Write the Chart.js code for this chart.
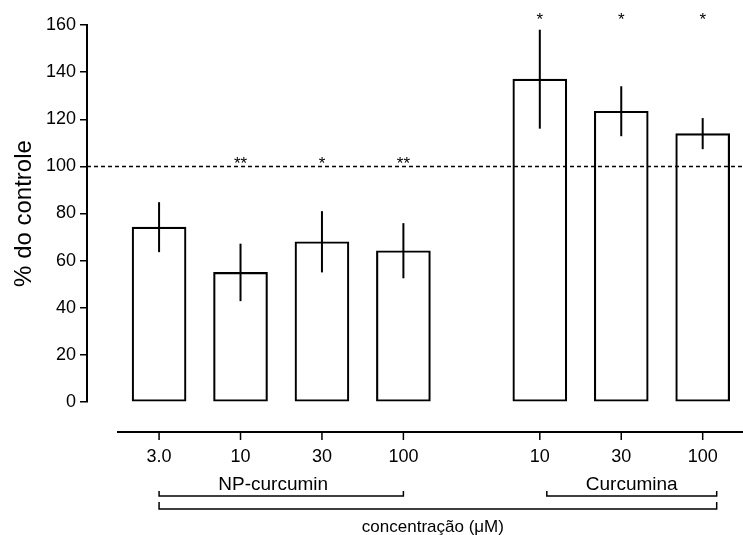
<!DOCTYPE html>
<html>
<head>
<meta charset="utf-8">
<script src="https://cdn.jsdelivr.net/npm/chart.js@4/dist/chart.umd.min.js"></script>
<style>
  body { margin: 0; background: #fff; }
</style>
</head>
<body>
<canvas id="c" width="743" height="535"></canvas>
<script>
// values
const doses = ["3.0", "10", "30", "100", "10", "30", "100"];
const groupOf = [0, 0, 0, 0, 1, 1, 1];
const groupNames = ["NP-curcumin", "Curcumina"];
const means = [74.2, 55, 68, 64.2, 137, 123.4, 113.9];
const sem = [10.6, 12.2, 13, 11.7, 21, 10.6, 6.6];
const stars = ["", "**", "*", "**", "*", "*", "*"];
const starLevel = [102.5, 163.5];
const controlLevel = 100;
const yTitle = "% do controle";
const xTitle = "concentração (μM)";

const font = "'Liberation Sans', Arial, sans-serif";
const groupGap = 0.675;
const xPos = doses.map((d, i) => i + groupOf[i] * groupGap);

const extras = {
  id: "extras",
  afterDraw(chart) {
    const { ctx, chartArea: a, scales: { x, y } } = chart;
    const cx = xPos.map(v => x.getPixelForValue(v));
    ctx.save();
    ctx.strokeStyle = "#000";
    ctx.fillStyle = "#000";

    // dashed control line
    ctx.lineWidth = 1.5;
    ctx.setLineDash([4, 3]);
    const yc = y.getPixelForValue(controlLevel);
    ctx.beginPath();
    ctx.moveTo(a.left, yc);
    ctx.lineTo(a.right, yc);
    ctx.stroke();
    ctx.setLineDash([]);

    // error bars
    ctx.lineWidth = 2;
    means.forEach((m, i) => {
      ctx.beginPath();
      ctx.moveTo(cx[i], y.getPixelForValue(m - sem[i]));
      ctx.lineTo(cx[i], y.getPixelForValue(m + sem[i]));
      ctx.stroke();
    });

    // significance marks
    ctx.font = "17px " + font;
    ctx.textAlign = "center";
    ctx.textBaseline = "middle";
    stars.forEach((s, i) => {
      if (s) ctx.fillText(s, cx[i], y.getPixelForValue(starLevel[groupOf[i]]) + 4);
    });

    // detached x axis
    const axY = a.bottom + 30;
    ctx.lineWidth = 2;
    ctx.beginPath();
    ctx.moveTo(a.left + 30, axY);
    ctx.lineTo(chart.width, axY);
    ctx.stroke();
    ctx.lineWidth = 1.5;
    cx.forEach(px => {
      ctx.beginPath();
      ctx.moveTo(px, axY);
      ctx.lineTo(px, axY + 8);
      ctx.stroke();
    });
    ctx.font = "18px " + font;
    doses.forEach((d, i) => ctx.fillText(d, cx[i], axY + 25));

    // group brackets
    const bracket = (x0, x1, yy, h) => {
      ctx.beginPath();
      ctx.moveTo(x0, yy - h);
      ctx.lineTo(x0, yy);
      ctx.lineTo(x1, yy);
      ctx.lineTo(x1, yy - h);
      ctx.stroke();
    };
    const g0 = [cx[0], cx[3]];
    const g1 = [cx[4] + 7, cx[6] + 14];
    bracket(g0[0], g0[1], axY + 64, 5);
    bracket(g1[0], g1[1], axY + 64, 5);
    bracket(g0[0], g1[1], axY + 77, 7);
    ctx.font = "19px " + font;
    ctx.fillText(groupNames[0], (g0[0] + g0[1]) / 2 - 8, axY + 53);
    ctx.fillText(groupNames[1], (g1[0] + g1[1]) / 2, axY + 53);
    ctx.font = "17px " + font;
    ctx.fillText(xTitle, (g0[0] + g1[1]) / 2 - 5, axY + 95);
    ctx.restore();
  }
};

new Chart(document.getElementById("c").getContext("2d"), {
  type: "bar",
  data: {
    datasets: [{
      data: means.map((m, i) => ({ x: xPos[i], y: m })),
      backgroundColor: "rgba(255,255,255,0)",
      borderColor: "#000",
      borderWidth: 1.5,
      borderSkipped: false,
      barThickness: 54
    }]
  },
  options: {
    responsive: false,
    animation: false,
    layout: { padding: { top: 25, bottom: 133, left: 0, right: 0 } },
    plugins: { legend: { display: false }, tooltip: { enabled: false } },
    scales: {
      x: {
        type: "linear",
        display: false,
        offset: false,
        min: -0.885,
        max: 7.17
      },
      y: {
        min: 0,
        max: 160,
        afterFit(scale) { scale.width = 87; },
        ticks: { stepSize: 20, padding: 4, color: "#000", font: { family: font, size: 18 } },
        grid: { drawOnChartArea: false, tickLength: 7, color: "#000", lineWidth: 1.5 },
        border: { color: "#000", width: 2 },
        title: {
          display: true,
          text: yTitle,
          color: "#000",
          font: { family: font, size: 24 },
          padding: { top: 10, bottom: 0 }
        }
      }
    }
  },
  plugins: [extras]
});
</script>
</body>
</html>
